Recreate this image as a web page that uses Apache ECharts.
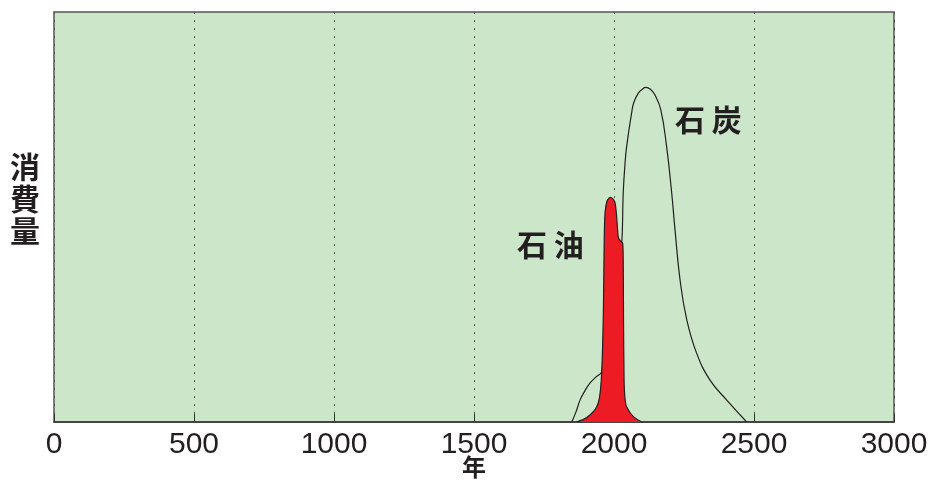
<!DOCTYPE html>
<html>
<head>
<meta charset="utf-8">
<script src="https://cdn.jsdelivr.net/npm/echarts@6/dist/echarts.min.js"></script>
<style>html,body{margin:0;padding:0;background:#fff;}#c{width:929px;height:483px;}</style>
</head>
<body>
<div id="c"></div>
<script>
// x-axis ticks
const xTicks = [0, 500, 1000, 1500, 2000, 2500, 3000];
// 石炭 (coal) consumption curve
const coalYears  = [1849, 1864, 1879, 1896, 1914, 1936, 1956, 1993, 2027, 2033, 2039, 2045, 2063, 2071, 2087, 2100, 2114, 2129, 2146, 2167, 2188, 2206, 2218, 2236, 2260, 2295, 2343, 2402, 2474];
const coalValues = [0, 2.4, 5.4, 7.6, 9.5, 11.0, 12.3, 29.8, 42.8, 55.9, 62.7, 67.1, 75.4, 78.0, 80.2, 81.1, 81.6, 81.2, 79.8, 76.2, 67.1, 55.9, 46.8, 34.6, 24.9, 16.8, 10.2, 5.4, 0];
// 石油 (oil) consumption curve
const oilYears  = [1867, 1893, 1914, 1936, 1948, 1956, 1962, 1965, 1968, 1975, 1986, 1996, 2004, 2009, 2015, 2021, 2031, 2033, 2034, 2036, 2039, 2045, 2069, 2099];
const oilValues = [0, 0.7, 1.7, 3.4, 5.9, 12.0, 26.6, 44.4, 51.0, 53.9, 54.8, 54.4, 53.4, 50.5, 45.2, 44.3, 43.6, 38.8, 24.9, 10.2, 5.9, 3.7, 1.3, 0];

const coalData = coalYears.map((y, i) => [y, coalValues[i]]);
const oilData = oilYears.map((y, i) => [y, oilValues[i]]);

const chart = echarts.init(document.getElementById('c'));
const cjk = '"Noto Sans CJK JP", "Noto Sans CJK SC", sans-serif';
chart.setOption({
  animation: false,
  grid: {
    left: 54, right: 35, top: 12, bottom: 61,
    outerBoundsMode: 'none', containLabel: false,
    show: true, backgroundColor: '#cce6c9', borderColor: '#555', borderWidth: 1.5
  },
  xAxis: {
    type: 'value', min: 0, max: 3000, interval: 500,
    axisLine: { show: true, lineStyle: { color: '#333', width: 1.5 } },
    axisTick: { show: true, inside: true, length: 8, lineStyle: { color: '#333', width: 1 } },
    axisLabel: {
      margin: 8, fontSize: 30, color: '#231f20', fontFamily: '"Liberation Sans", Arial, sans-serif',
      formatter: v => xTicks.includes(v) ? String(v) : ''
    },
    splitLine: { show: true, lineStyle: { color: '#555', width: 1, type: [2, 6] } }
  },
  yAxis: {
    type: 'value', min: 0, max: 100,
    axisLine: { show: false }, axisTick: { show: false }, axisLabel: { show: false },
    splitLine: { show: false }
  },
  series: [
    {
      name: '石炭', type: 'line', data: coalData, smooth: 0.45, showSymbol: false, z: 2,
      lineStyle: { color: '#231f20', width: 1.2 }
    },
    {
      name: '石油', type: 'line', data: oilData, smooth: 0.2, showSymbol: false, z: 3,
      lineStyle: { color: '#231f20', width: 1.2 },
      areaStyle: { color: '#ed1c24', opacity: 1 }
    }
  ],
  graphic: [
    { type: 'text', left: 517, top: 230, style: { text: '石 油', fontFamily: cjk, fontSize: 30, fontWeight: 'bold', fill: '#231f20' }, z: 10 },
    { type: 'text', left: 675, top: 105, style: { text: '石 炭', fontFamily: cjk, fontSize: 30, fontWeight: 'bold', fill: '#231f20' }, z: 10 },
    { type: 'text', left: 10, top: 151, style: { text: '消\n費\n量', fontFamily: cjk, fontSize: 30, lineHeight: 32, fontWeight: 'bold', fill: '#231f20' }, z: 10 },
    { type: 'text', left: 462, top: 455, style: { text: '年', fontFamily: cjk, fontSize: 24, fontWeight: 'bold', fill: '#231f20' }, z: 10 }
  ]
});
</script>
</body>
</html>
